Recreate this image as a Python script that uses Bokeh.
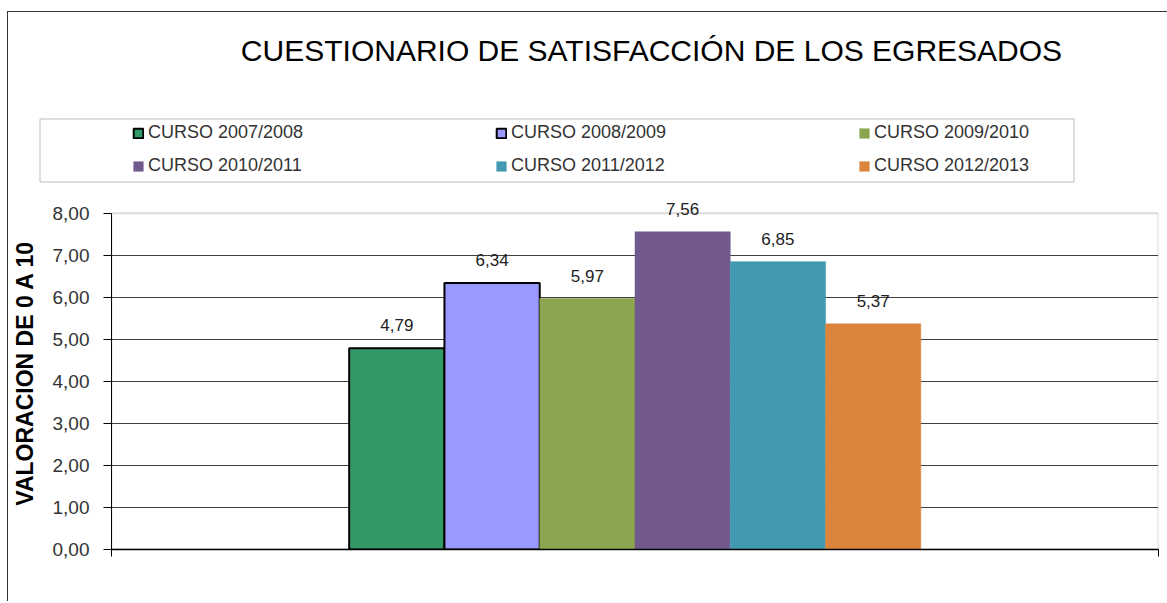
from bokeh.plotting import figure
from bokeh.layouts import column
from bokeh.models import (Range1d, FixedTicker, Legend, LegendItem, BoxAnnotation,
                          ColumnDataSource, Label)
from bokeh.embed import file_html
from bokeh.resources import INLINE
from bokeh.core.properties import value

# ---------------- data ----------------
title_text = "CUESTIONARIO DE SATISFACCIÓN DE LOS EGRESADOS"
series = ["CURSO 2007/2008", "CURSO 2008/2009", "CURSO 2009/2010",
          "CURSO 2010/2011", "CURSO 2011/2012", "CURSO 2012/2013"]
scores = [4.79, 6.34, 5.97, 7.56, 6.85, 5.37]
y_ticks = [0, 1, 2, 3, 4, 5, 6, 7, 8]
y_tick_labels = ["0,00", "1,00", "2,00", "3,00", "4,00", "5,00", "6,00", "7,00", "8,00"]
y_label = "VALORACION DE 0 A 10"

# ---------------- style ----------------
colors = ["#339966", "#9999FF", "#8BA64F", "#725A8F", "#4399B0", "#DB843D"]
outlined = [True, True, False, False, False, False]
FONT = "Liberation Sans"
W = 1159

bar_w = 0.091
group_center = 0.5
n = len(series)
sources = []
for i, v in enumerate(scores):
    xc = group_center + (i - (n - 1) / 2) * bar_w
    sources.append(ColumnDataSource(dict(x=[xc], top=[v])))

# ================= header (title + legend) =================
HH = 172
hdr = figure(width=W, height=HH, output_backend="svg", toolbar_location=None,
             x_range=Range1d(0, W), y_range=Range1d(0, HH), title=None,
             x_axis_location=None, y_axis_location=None,
             min_border_left=0, min_border_right=0, min_border_top=0, min_border_bottom=0)
hdr.grid.visible = False
hdr.outline_line_color = None
hdr.background_fill_color = "white"
hdr.border_fill_color = "white"

hdr.add_layout(Label(x=643, y=134, text=title_text, text_align="center",
                     text_baseline="middle", text_font=FONT, text_font_size="30px",
                     text_color="black"))

proxies = []
for i in range(n):
    r = hdr.vbar(x="x", top="top", bottom=0, width=bar_w, source=sources[i],
                 fill_color=colors[i],
                 line_color="black" if outlined[i] else colors[i],
                 line_width=2 if outlined[i] else 0.5)
    r.visible = False
    proxies.append(r)

legend = Legend(items=[LegendItem(label=s, renderers=[r]) for s, r in zip(series, proxies)],
                orientation="horizontal", ncols=3, location=(124, 8),
                glyph_width=12, glyph_height=12, label_standoff=4,
                label_width=335, label_height=20, spacing=12, padding=0, margin=0,
                border_line_alpha=0, background_fill_alpha=0,
                inactive_fill_alpha=0,
                label_text_font=FONT, label_text_font_size="18px",
                label_text_color="#333333")
hdr.add_layout(legend, "center")
hdr.add_layout(BoxAnnotation(left=31.5, right=1065.5, top=65.5, bottom=2.5,
                             fill_color=None, fill_alpha=0,
                             line_color="#222222", line_width=1))

# ================= main chart =================
p = figure(width=W, height=417, output_backend="svg", toolbar_location=None,
           x_range=Range1d(0, 1), y_range=Range1d(0, 8.4), title=None,
           min_border_left=100, min_border_right=9, min_border_top=12,
           min_border_bottom=52)
p.background_fill_color = "white"
p.border_fill_color = "white"
p.outline_line_color = None

lab_x, lab_y, lab_t = [], [], []
for i, (name, v) in enumerate(zip(series, scores)):
    p.vbar(x="x", top="top", bottom=0, width=bar_w, source=sources[i],
           fill_color=colors[i],
           line_color="black" if outlined[i] else colors[i],
           line_width=2 if outlined[i] else 0.5)
    lab_x.append(sources[i].data["x"][0])
    lab_y.append(v)
    lab_t.append(f"{v:.2f}".replace(".", ","))

lsrc = ColumnDataSource(dict(x=lab_x, y=lab_y, t=lab_t))
p.text(x="x", y="y", text="t", source=lsrc, text_align="center",
       text_baseline="middle", y_offset=-23, text_font=value(FONT),
       text_font_size="17px", text_color="#222222")

p.add_layout(BoxAnnotation(left=0, right=1, bottom=0, top=y_ticks[-1],
                           fill_color=None, fill_alpha=0,
                           line_color="#8c8c8c", line_width=2, level="underlay"))

p.yaxis.ticker = FixedTicker(ticks=y_ticks)
p.yaxis.bounds = (y_ticks[0], y_ticks[-1])
p.yaxis.major_label_overrides = dict(zip(y_ticks, y_tick_labels))
p.yaxis.major_label_text_font = FONT
p.yaxis.major_label_text_font_size = "19px"
p.yaxis.major_label_text_color = "#333333"
p.yaxis.major_label_standoff = 14
p.yaxis.major_tick_out = 8
p.yaxis.major_tick_in = 0
p.yaxis.minor_tick_line_color = None
p.yaxis.axis_line_color = "black"
p.yaxis.major_tick_line_color = "black"
p.yaxis.axis_label = y_label
p.yaxis.axis_label_text_font = FONT
p.yaxis.axis_label_text_font_size = "23px"
p.yaxis.axis_label_text_font_style = "bold"
p.yaxis.axis_label_text_color = "black"
p.yaxis.axis_label_standoff = 12

p.xaxis.ticker = FixedTicker(ticks=[0, 1])
p.xaxis.major_label_overrides = {0: "", 1: ""}
p.xaxis.major_tick_out = 7
p.xaxis.major_tick_in = 0
p.xaxis.minor_tick_line_color = None
p.xaxis.axis_line_color = "black"
p.xaxis.axis_line_width = 1.5
p.xaxis.major_tick_line_color = "black"

p.xgrid.grid_line_color = None
p.ygrid.ticker = FixedTicker(ticks=y_ticks[1:-1])
p.ygrid.grid_line_color = "#404040"
p.ygrid.grid_line_width = 1

layout = column(column(hdr), column(p), spacing=0, margin=(11, 0, 0, 7),
                styles={"border-left": "1px solid #333333",
                        "border-top": "1px solid #333333"})

open("out.html", "w").write(file_html(layout, INLINE))
